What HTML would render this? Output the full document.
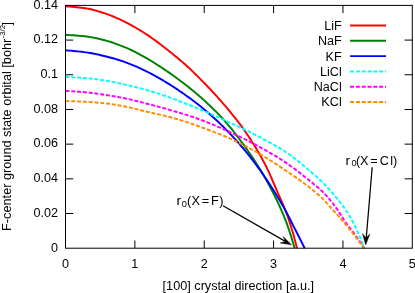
<!DOCTYPE html>
<html><head><meta charset="utf-8"><title>F-center ground state orbital</title>
<style>
html,body{margin:0;padding:0;background:#fff;}
body{width:415px;height:293px;overflow:hidden;}
svg{display:block;}
text{font-family:"Liberation Sans",sans-serif;fill:#000;}
</style></head><body>
<svg width="415" height="293" viewBox="0 0 415 293">
<rect width="415" height="293" fill="#fff"/>
<path d="M134.86 248.20 v-7.7 M134.86 5.40 v7.7 M204.22 248.20 v-7.7 M204.22 5.40 v7.7 M273.58 248.20 v-7.7 M273.58 5.40 v7.7 M342.94 248.20 v-7.7 M342.94 5.40 v7.7 M65.50 213.51 h7.7 M412.30 213.51 h-7.7 M65.50 178.83 h7.7 M412.30 178.83 h-7.7 M65.50 144.14 h7.7 M412.30 144.14 h-7.7 M65.50 109.46 h7.7 M412.30 109.46 h-7.7 M65.50 74.77 h7.7 M412.30 74.77 h-7.7 M65.50 40.09 h7.7 M412.30 40.09 h-7.7" stroke="#000" stroke-width="1" fill="none"/>
<path d="M65.50 6.40 L67.75 6.46 L69.99 6.57 L72.22 6.73 L74.45 6.93 L76.66 7.16 L78.88 7.42 L81.08 7.70 L83.28 7.99 L85.47 8.30 L87.65 8.64 L89.83 9.07 L92.01 9.56 L94.18 10.12 L96.34 10.71 L98.49 11.35 L100.63 12.02 L102.76 12.70 L104.87 13.39 L106.97 14.10 L109.06 14.85 L111.14 15.66 L113.20 16.50 L115.26 17.38 L117.31 18.29 L119.34 19.23 L121.36 20.19 L123.37 21.16 L125.37 22.13 L127.35 23.13 L129.33 24.15 L131.29 25.21 L133.25 26.29 L135.19 27.39 L137.12 28.52 L139.04 29.66 L140.95 30.83 L142.84 32.00 L144.72 33.20 L146.58 34.40 L148.43 35.64 L150.26 36.90 L152.08 38.18 L153.89 39.49 L155.69 40.81 L157.48 42.15 L159.26 43.49 L161.04 44.85 L162.80 46.21 L164.57 47.58 L166.33 48.94 L168.08 50.31 L169.83 51.69 L171.58 53.08 L173.32 54.48 L175.05 55.89 L176.77 57.30 L178.49 58.73 L180.19 60.17 L181.88 61.62 L183.56 63.08 L185.23 64.56 L186.88 66.05 L188.52 67.55 L190.15 69.07 L191.77 70.60 L193.38 72.14 L194.98 73.69 L196.58 75.26 L198.16 76.83 L199.74 78.41 L201.30 80.00 L202.87 81.59 L204.42 83.18 L205.97 84.78 L207.51 86.39 L209.05 88.00 L210.58 89.62 L212.10 91.25 L213.62 92.89 L215.13 94.53 L216.64 96.18 L218.13 97.83 L219.61 99.50 L221.09 101.17 L222.55 102.85 L224.00 104.54 L225.44 106.23 L226.88 107.94 L228.31 109.65 L229.74 111.36 L231.16 113.08 L232.57 114.81 L233.98 116.55 L235.38 118.29 L236.76 120.05 L238.13 121.81 L239.49 123.58 L240.82 125.37 L242.14 127.16 L243.45 128.96 L244.72 130.78 L245.98 132.60 L247.23 134.44 L248.46 136.29 L249.69 138.15 L250.91 140.02 L252.11 141.90 L253.30 143.79 L254.49 145.69 L255.65 147.60 L256.81 149.52 L257.95 151.44 L259.07 153.37 L260.18 155.31 L261.27 157.26 L262.34 159.21 L263.40 161.17 L264.44 163.14 L265.45 165.11 L266.45 167.09 L267.42 169.09 L268.36 171.10 L269.29 173.13 L270.20 175.16 L271.10 177.21 L271.99 179.26 L272.86 181.31 L273.74 183.37 L274.61 185.42 L275.48 187.48 L276.36 189.53 L277.25 191.57 L278.15 193.61 L279.05 195.65 L279.96 197.69 L280.86 199.73 L281.77 201.77 L282.66 203.82 L283.54 205.87 L284.41 207.92 L285.25 209.98 L286.07 212.05 L286.87 214.13 L287.63 216.22 L288.36 218.32 L289.07 220.43 L289.76 222.56 L290.42 224.68 L291.07 226.82 L291.71 228.95 L292.35 231.09 L292.97 233.23 L293.58 235.37 L294.18 237.51 L294.77 239.66 L295.35 241.82 L295.91 243.97 L296.46 246.13 L297.00 248.30" stroke="#ff0000" stroke-width="1.95" fill="none" stroke-linejoin="round"/>
<path d="M65.50 35.00 L67.60 35.03 L69.70 35.10 L71.79 35.20 L73.88 35.33 L75.97 35.49 L78.05 35.66 L80.13 35.85 L82.20 36.06 L84.27 36.27 L86.34 36.49 L88.40 36.76 L90.47 37.09 L92.53 37.46 L94.59 37.87 L96.64 38.31 L98.68 38.79 L100.72 39.28 L102.75 39.79 L104.77 40.31 L106.78 40.84 L108.78 41.41 L110.78 42.02 L112.77 42.67 L114.76 43.35 L116.73 44.06 L118.70 44.79 L120.66 45.54 L122.60 46.32 L124.53 47.10 L126.45 47.90 L128.36 48.73 L130.26 49.60 L132.14 50.50 L134.02 51.43 L135.89 52.38 L137.75 53.35 L139.60 54.34 L141.44 55.34 L143.27 56.35 L145.09 57.37 L146.90 58.40 L148.71 59.45 L150.50 60.52 L152.29 61.60 L154.06 62.71 L155.83 63.83 L157.59 64.96 L159.35 66.10 L161.09 67.25 L162.84 68.41 L164.57 69.57 L166.30 70.74 L168.03 71.92 L169.75 73.11 L171.46 74.30 L173.17 75.51 L174.87 76.73 L176.56 77.96 L178.25 79.19 L179.93 80.44 L181.60 81.70 L183.26 82.96 L184.91 84.24 L186.55 85.53 L188.19 86.82 L189.82 88.13 L191.45 89.45 L193.07 90.77 L194.68 92.11 L196.28 93.46 L197.87 94.82 L199.45 96.18 L201.02 97.56 L202.59 98.95 L204.13 100.35 L205.67 101.76 L207.20 103.18 L208.72 104.61 L210.24 106.05 L211.75 107.50 L213.25 108.96 L214.75 110.43 L216.23 111.91 L217.70 113.40 L219.15 114.91 L220.59 116.42 L222.02 117.95 L223.43 119.49 L224.82 121.04 L226.20 122.60 L227.56 124.17 L228.91 125.76 L230.25 127.36 L231.58 128.98 L232.89 130.61 L234.20 132.24 L235.49 133.89 L236.78 135.55 L238.05 137.21 L239.31 138.89 L240.56 140.57 L241.80 142.25 L243.03 143.94 L244.25 145.64 L245.46 147.34 L246.66 149.04 L247.85 150.75 L249.05 152.47 L250.23 154.19 L251.41 155.92 L252.58 157.66 L253.74 159.40 L254.89 161.15 L256.04 162.91 L257.17 164.68 L258.29 166.45 L259.39 168.22 L260.49 170.01 L261.57 171.80 L262.63 173.59 L263.68 175.39 L264.72 177.20 L265.73 179.02 L266.74 180.84 L267.74 182.67 L268.73 184.50 L269.72 186.34 L270.70 188.19 L271.67 190.05 L272.63 191.91 L273.58 193.77 L274.53 195.65 L275.46 197.52 L276.38 199.41 L277.29 201.30 L278.19 203.19 L279.07 205.09 L279.95 206.99 L280.81 208.90 L281.65 210.82 L282.48 212.73 L283.30 214.66 L284.10 216.58 L284.88 218.51 L285.65 220.45 L286.38 222.40 L287.09 224.37 L287.78 226.35 L288.45 228.33 L289.11 230.31 L289.76 232.30 L290.40 234.29 L291.03 236.28 L291.66 238.27 L292.27 240.27 L292.87 242.27 L293.46 244.28 L294.04 246.29 L294.60 248.30" stroke="#008000" stroke-width="1.95" fill="none" stroke-linejoin="round"/>
<path d="M65.50 50.40 L67.56 50.50 L69.61 50.64 L71.66 50.79 L73.71 50.97 L75.75 51.16 L77.79 51.38 L79.83 51.60 L81.87 51.84 L83.90 52.10 L85.93 52.36 L87.95 52.65 L89.98 52.97 L92.00 53.33 L94.02 53.72 L96.03 54.13 L98.04 54.57 L100.05 55.02 L102.05 55.48 L104.05 55.95 L106.04 56.43 L108.03 56.93 L110.01 57.45 L111.99 58.00 L113.97 58.56 L115.94 59.15 L117.91 59.76 L119.87 60.38 L121.82 61.03 L123.76 61.69 L125.69 62.37 L127.61 63.07 L129.52 63.80 L131.43 64.56 L133.33 65.34 L135.22 66.15 L137.10 66.98 L138.98 67.83 L140.85 68.69 L142.71 69.56 L144.56 70.44 L146.40 71.34 L148.23 72.25 L150.06 73.18 L151.87 74.14 L153.68 75.11 L155.49 76.10 L157.28 77.10 L159.07 78.12 L160.85 79.15 L162.62 80.19 L164.38 81.23 L166.14 82.29 L167.89 83.35 L169.63 84.44 L171.37 85.53 L173.09 86.65 L174.81 87.77 L176.53 88.90 L178.23 90.05 L179.93 91.21 L181.62 92.37 L183.30 93.55 L184.98 94.73 L186.65 95.92 L188.31 97.12 L189.97 98.33 L191.62 99.55 L193.27 100.78 L194.91 102.02 L196.54 103.27 L198.16 104.54 L199.77 105.81 L201.37 107.09 L202.96 108.39 L204.54 109.70 L206.11 111.01 L207.66 112.34 L209.21 113.68 L210.76 115.04 L212.29 116.41 L213.81 117.79 L215.33 119.18 L216.84 120.58 L218.33 121.98 L219.82 123.40 L221.30 124.83 L222.76 126.27 L224.22 127.71 L225.66 129.16 L227.10 130.62 L228.53 132.09 L229.95 133.57 L231.36 135.06 L232.77 136.56 L234.16 138.07 L235.55 139.59 L236.93 141.12 L238.30 142.65 L239.65 144.20 L241.00 145.75 L242.33 147.31 L243.65 148.87 L244.96 150.45 L246.26 152.03 L247.55 153.62 L248.83 155.22 L250.10 156.83 L251.36 158.45 L252.62 160.08 L253.86 161.72 L255.10 163.36 L256.33 165.01 L257.54 166.67 L258.75 168.33 L259.95 170.00 L261.14 171.68 L262.32 173.36 L263.48 175.04 L264.64 176.74 L265.79 178.43 L266.93 180.13 L268.06 181.84 L269.19 183.55 L270.31 185.27 L271.42 187.00 L272.52 188.73 L273.62 190.47 L274.70 192.22 L275.78 193.96 L276.85 195.72 L277.92 197.48 L278.97 199.24 L280.02 201.01 L281.05 202.78 L282.08 204.56 L283.10 206.34 L284.12 208.13 L285.12 209.91 L286.11 211.71 L287.08 213.51 L288.04 215.33 L288.98 217.15 L289.91 218.98 L290.83 220.81 L291.75 222.65 L292.67 224.48 L293.60 226.32 L294.53 228.15 L295.46 229.98 L296.39 231.81 L297.32 233.64 L298.25 235.47 L299.17 237.30 L300.10 239.13 L301.02 240.96 L301.94 242.80 L302.86 244.63 L303.78 246.46 L304.70 248.30" stroke="#0000ff" stroke-width="1.95" fill="none" stroke-linejoin="round"/>
<path d="M65.50 77.00 L67.78 77.06 L70.05 77.14 L72.32 77.24 L74.60 77.36 L76.87 77.49 L79.14 77.64 L81.40 77.80 L83.67 77.96 L85.93 78.13 L88.19 78.33 L90.46 78.56 L92.72 78.81 L94.98 79.09 L97.23 79.38 L99.49 79.70 L101.74 80.03 L103.99 80.37 L106.23 80.72 L108.47 81.09 L110.70 81.50 L112.93 81.94 L115.16 82.40 L117.39 82.88 L119.61 83.37 L121.83 83.87 L124.05 84.37 L126.27 84.87 L128.48 85.38 L130.70 85.90 L132.91 86.43 L135.12 86.97 L137.33 87.53 L139.53 88.09 L141.73 88.67 L143.92 89.26 L146.11 89.87 L148.30 90.50 L150.48 91.14 L152.65 91.80 L154.82 92.48 L156.99 93.17 L159.16 93.87 L161.32 94.58 L163.47 95.31 L165.62 96.04 L167.77 96.79 L169.91 97.55 L172.04 98.33 L174.18 99.13 L176.30 99.93 L178.43 100.75 L180.55 101.57 L182.67 102.39 L184.79 103.22 L186.90 104.05 L189.02 104.89 L191.13 105.73 L193.24 106.58 L195.34 107.44 L197.44 108.31 L199.54 109.18 L201.64 110.06 L203.74 110.95 L205.82 111.84 L207.91 112.74 L209.99 113.66 L212.07 114.59 L214.14 115.52 L216.21 116.46 L218.28 117.40 L220.35 118.35 L222.42 119.29 L224.49 120.24 L226.56 121.18 L228.63 122.12 L230.70 123.05 L232.77 123.99 L234.85 124.93 L236.91 125.87 L238.98 126.82 L241.04 127.78 L243.10 128.75 L245.15 129.73 L247.19 130.73 L249.23 131.73 L251.26 132.75 L253.29 133.77 L255.32 134.81 L257.34 135.85 L259.36 136.91 L261.36 137.97 L263.37 139.04 L265.37 140.13 L267.36 141.22 L269.36 142.31 L271.36 143.40 L273.35 144.51 L275.34 145.62 L277.32 146.76 L279.28 147.91 L281.23 149.08 L283.15 150.28 L285.06 151.51 L286.93 152.77 L288.79 154.06 L290.64 155.39 L292.46 156.74 L294.28 158.12 L296.08 159.52 L297.86 160.94 L299.64 162.37 L301.41 163.81 L303.16 165.26 L304.91 166.71 L306.65 168.16 L308.39 169.63 L310.13 171.10 L311.86 172.58 L313.58 174.08 L315.29 175.59 L316.98 177.11 L318.66 178.65 L320.33 180.20 L321.97 181.77 L323.59 183.36 L325.18 184.97 L326.75 186.61 L328.28 188.29 L329.78 190.00 L331.26 191.73 L332.73 193.48 L334.18 195.22 L335.65 196.96 L337.11 198.71 L338.58 200.46 L340.02 202.22 L341.45 204.00 L342.84 205.80 L344.18 207.62 L345.48 209.48 L346.74 211.36 L347.96 213.28 L349.14 215.22 L350.30 217.19 L351.42 219.18 L352.50 221.18 L353.56 223.19 L354.57 225.22 L355.56 227.27 L356.51 229.33 L357.45 231.41 L358.36 233.50 L359.25 235.59 L360.12 237.68 L360.98 239.79 L361.82 241.90 L362.63 244.03 L363.43 246.16 L364.20 248.30" stroke="#00ffff" stroke-width="1.95" fill="none" stroke-dasharray="4 1.8" stroke-linejoin="round"/>
<path d="M65.50 90.90 L67.71 91.00 L69.92 91.11 L72.13 91.25 L74.33 91.39 L76.54 91.55 L78.74 91.72 L80.94 91.90 L83.14 92.09 L85.34 92.29 L87.54 92.50 L89.74 92.73 L91.93 92.99 L94.13 93.27 L96.32 93.57 L98.51 93.87 L100.70 94.19 L102.89 94.51 L105.07 94.84 L107.26 95.17 L109.44 95.51 L111.62 95.86 L113.80 96.22 L115.98 96.60 L118.16 96.99 L120.34 97.39 L122.51 97.80 L124.67 98.23 L126.83 98.68 L128.99 99.15 L131.14 99.65 L133.29 100.17 L135.44 100.70 L137.58 101.25 L139.72 101.80 L141.86 102.36 L144.00 102.91 L146.14 103.47 L148.28 104.02 L150.42 104.58 L152.56 105.15 L154.69 105.72 L156.83 106.30 L158.96 106.88 L161.09 107.47 L163.22 108.06 L165.35 108.66 L167.47 109.26 L169.60 109.86 L171.73 110.46 L173.85 111.08 L175.97 111.69 L178.10 112.32 L180.21 112.95 L182.33 113.60 L184.43 114.26 L186.54 114.93 L188.64 115.62 L190.74 116.31 L192.83 117.02 L194.92 117.74 L197.01 118.47 L199.09 119.22 L201.17 119.97 L203.24 120.74 L205.31 121.53 L207.36 122.33 L209.41 123.15 L211.46 123.98 L213.50 124.84 L215.53 125.70 L217.56 126.58 L219.59 127.47 L221.61 128.36 L223.63 129.26 L225.65 130.17 L227.66 131.08 L229.67 131.99 L231.68 132.92 L233.68 133.86 L235.68 134.80 L237.67 135.76 L239.67 136.72 L241.65 137.69 L243.63 138.67 L245.61 139.66 L247.58 140.65 L249.55 141.65 L251.52 142.66 L253.48 143.68 L255.44 144.70 L257.40 145.74 L259.34 146.79 L261.28 147.85 L263.22 148.92 L265.14 150.00 L267.06 151.09 L268.98 152.19 L270.89 153.30 L272.80 154.42 L274.70 155.56 L276.60 156.70 L278.48 157.86 L280.35 159.04 L282.21 160.23 L284.06 161.44 L285.89 162.66 L287.71 163.91 L289.52 165.18 L291.31 166.47 L293.10 167.78 L294.87 169.10 L296.64 170.43 L298.39 171.78 L300.14 173.14 L301.88 174.51 L303.61 175.89 L305.33 177.27 L307.06 178.65 L308.79 180.03 L310.52 181.42 L312.25 182.82 L313.98 184.22 L315.69 185.64 L317.39 187.08 L319.06 188.53 L320.70 190.01 L322.32 191.51 L323.89 193.04 L325.42 194.60 L326.91 196.20 L328.36 197.85 L329.78 199.54 L331.17 201.26 L332.54 203.01 L333.88 204.79 L335.20 206.58 L336.49 208.38 L337.77 210.18 L339.02 212.00 L340.22 213.85 L341.39 215.73 L342.55 217.62 L343.72 219.50 L344.92 221.36 L346.16 223.18 L347.46 224.96 L348.81 226.71 L350.17 228.45 L351.55 230.19 L352.93 231.92 L354.28 233.67 L355.60 235.44 L356.88 237.24 L358.14 239.05 L359.38 240.88 L360.61 242.72 L361.83 244.57 L363.02 246.43 L364.20 248.30" stroke="#ff00ff" stroke-width="1.95" fill="none" stroke-dasharray="4 1.8" stroke-linejoin="round"/>
<path d="M65.50 101.10 L67.67 101.13 L69.85 101.18 L72.02 101.24 L74.19 101.31 L76.36 101.39 L78.53 101.48 L80.70 101.57 L82.87 101.67 L85.04 101.78 L87.21 101.89 L89.38 102.02 L91.54 102.16 L93.71 102.31 L95.88 102.49 L98.05 102.67 L100.21 102.87 L102.37 103.08 L104.53 103.30 L106.68 103.53 L108.84 103.80 L110.99 104.09 L113.14 104.41 L115.29 104.75 L117.43 105.11 L119.58 105.49 L121.72 105.88 L123.85 106.28 L125.98 106.69 L128.10 107.13 L130.22 107.60 L132.33 108.11 L134.44 108.63 L136.55 109.16 L138.66 109.70 L140.76 110.24 L142.87 110.77 L144.98 111.28 L147.10 111.77 L149.22 112.25 L151.34 112.73 L153.46 113.20 L155.58 113.67 L157.70 114.14 L159.82 114.63 L161.93 115.12 L164.04 115.63 L166.15 116.17 L168.25 116.71 L170.35 117.27 L172.45 117.84 L174.54 118.42 L176.63 119.02 L178.72 119.63 L180.80 120.25 L182.88 120.88 L184.95 121.53 L187.02 122.19 L189.08 122.87 L191.13 123.57 L193.18 124.29 L195.23 125.02 L197.27 125.76 L199.31 126.51 L201.35 127.26 L203.39 128.02 L205.43 128.77 L207.46 129.52 L209.50 130.27 L211.54 131.03 L213.58 131.79 L215.62 132.55 L217.65 133.33 L219.67 134.11 L221.69 134.92 L223.70 135.74 L225.69 136.58 L227.68 137.45 L229.66 138.33 L231.64 139.24 L233.61 140.16 L235.57 141.10 L237.52 142.06 L239.47 143.02 L241.41 144.00 L243.35 144.99 L245.28 145.98 L247.20 146.99 L249.12 148.01 L251.03 149.05 L252.93 150.09 L254.83 151.16 L256.72 152.23 L258.60 153.31 L260.48 154.41 L262.35 155.51 L264.22 156.63 L266.07 157.75 L267.92 158.88 L269.76 160.03 L271.60 161.20 L273.42 162.37 L275.24 163.56 L277.06 164.75 L278.87 165.95 L280.68 167.16 L282.49 168.37 L284.29 169.58 L286.09 170.80 L287.89 172.01 L289.69 173.23 L291.49 174.45 L293.29 175.67 L295.08 176.91 L296.86 178.15 L298.64 179.39 L300.41 180.65 L302.17 181.93 L303.92 183.21 L305.65 184.51 L307.38 185.83 L309.11 187.15 L310.83 188.48 L312.54 189.83 L314.24 191.20 L315.91 192.59 L317.56 194.00 L319.18 195.44 L320.76 196.91 L322.30 198.43 L323.82 199.98 L325.31 201.56 L326.78 203.16 L328.24 204.77 L329.70 206.40 L331.15 208.02 L332.61 209.63 L334.08 211.23 L335.54 212.84 L337.00 214.45 L338.45 216.07 L339.89 217.69 L341.32 219.33 L342.74 220.97 L344.15 222.62 L345.54 224.29 L346.92 225.96 L348.29 227.65 L349.65 229.34 L351.01 231.05 L352.35 232.75 L353.69 234.46 L355.03 236.17 L356.36 237.89 L357.68 239.61 L359.00 241.34 L360.31 243.07 L361.61 244.81 L362.91 246.55 L364.20 248.30" stroke="#ff8c00" stroke-width="1.95" fill="none" stroke-dasharray="4 1.8" stroke-linejoin="round"/>
<rect x="65.50" y="5.40" width="346.80" height="242.80" fill="none" stroke="#000" stroke-width="1"/>
<path d="M350.1 25.50 H386" stroke="#ff0000" stroke-width="1.95"/>
<text x="324.20" y="29.90" font-size="12" textLength="17.50" lengthAdjust="spacingAndGlyphs">LiF</text>
<path d="M350.1 40.80 H386" stroke="#008000" stroke-width="1.95"/>
<text x="317.90" y="45.20" font-size="12" textLength="23.80" lengthAdjust="spacingAndGlyphs">NaF</text>
<path d="M350.1 56.10 H386" stroke="#0000ff" stroke-width="1.95"/>
<text x="325.59" y="60.50" font-size="12" textLength="16.11" lengthAdjust="spacingAndGlyphs">KF</text>
<path d="M350.1 71.40 H386" stroke="#00ffff" stroke-width="1.95" stroke-dasharray="4 1.8"/>
<text x="320.00" y="75.80" font-size="12" textLength="21.70" lengthAdjust="spacingAndGlyphs">LiCl</text>
<path d="M350.1 86.70 H386" stroke="#ff00ff" stroke-width="1.95" stroke-dasharray="4 1.8"/>
<text x="313.70" y="91.10" font-size="12" textLength="28.00" lengthAdjust="spacingAndGlyphs">NaCl</text>
<path d="M350.1 102.00 H386" stroke="#ff8c00" stroke-width="1.95" stroke-dasharray="4 1.8"/>
<text x="321.39" y="106.40" font-size="12" textLength="20.31" lengthAdjust="spacingAndGlyphs">KCl</text>
<text x="51.08" y="251.50" font-size="12" textLength="7.02" lengthAdjust="spacingAndGlyphs">0</text>
<text x="33.57" y="216.81" font-size="12" textLength="24.53" lengthAdjust="spacingAndGlyphs">0.02</text>
<text x="33.57" y="182.13" font-size="12" textLength="24.53" lengthAdjust="spacingAndGlyphs">0.04</text>
<text x="33.57" y="147.44" font-size="12" textLength="24.53" lengthAdjust="spacingAndGlyphs">0.06</text>
<text x="33.57" y="112.76" font-size="12" textLength="24.53" lengthAdjust="spacingAndGlyphs">0.08</text>
<text x="40.58" y="78.07" font-size="12" textLength="17.52" lengthAdjust="spacingAndGlyphs">0.1</text>
<text x="33.57" y="43.39" font-size="12" textLength="24.53" lengthAdjust="spacingAndGlyphs">0.12</text>
<text x="33.57" y="8.70" font-size="12" textLength="24.53" lengthAdjust="spacingAndGlyphs">0.14</text>
<text x="61.99" y="267.50" font-size="12" textLength="7.02" lengthAdjust="spacingAndGlyphs">0</text>
<text x="131.35" y="267.50" font-size="12" textLength="7.02" lengthAdjust="spacingAndGlyphs">1</text>
<text x="200.71" y="267.50" font-size="12" textLength="7.02" lengthAdjust="spacingAndGlyphs">2</text>
<text x="270.07" y="267.50" font-size="12" textLength="7.02" lengthAdjust="spacingAndGlyphs">3</text>
<text x="339.43" y="267.50" font-size="12" textLength="7.02" lengthAdjust="spacingAndGlyphs">4</text>
<text x="408.79" y="267.50" font-size="12" textLength="7.02" lengthAdjust="spacingAndGlyphs">5</text>
<text x="162.6" y="289.9" font-size="12" textLength="151.5" lengthAdjust="spacingAndGlyphs">[100] crystal direction [a.u.]</text>
<g transform="translate(11.4 230.9) rotate(-90)"><text x="0" y="0" font-size="12" textLength="192.2" lengthAdjust="spacingAndGlyphs">F-center ground state orbital [bohr</text><text x="192.7" y="-6.0" font-size="7.6" textLength="13.2" lengthAdjust="spacingAndGlyphs">-3/2</text><text x="205.5" y="0" font-size="12">]</text></g>
<path d="M223 205.8 L288 242.9" stroke="#000" stroke-width="1.25" fill="none"/><path d="M291.4 244.8 L283.2 236.6 L285.6 241.5 L280.2 242.9 Z" fill="#000" stroke="#000" stroke-width="0.5" stroke-linejoin="miter"/>
<path d="M372.2 167.2 L366 241" stroke="#000" stroke-width="1.25" fill="none"/><path d="M365.7 244.8 L362.5 233.8 L366.1 238 L369.9 234 Z" fill="#000" stroke="#000" stroke-width="0.5"/>
<text x="345.40" y="164.90" font-size="12" textLength="4.6" lengthAdjust="spacingAndGlyphs">r</text><text x="351.40" y="166.40" font-size="9.2">0</text><text transform="translate(0 164.90) scale(1.06 1)" x="335.75 339.62 349.25 358.16 368.11 370.85" y="0" font-size="12">(X=Cl)</text>
<text x="176.40" y="205.40" font-size="12" textLength="4.6" lengthAdjust="spacingAndGlyphs">r</text><text x="181.80" y="206.90" font-size="9.2">0</text><text transform="translate(0 205.40) scale(1.06 1)" x="176.42 180.75 190.38 199.15 206.89" y="0" font-size="12">(X=F)</text>
</svg></body></html>
